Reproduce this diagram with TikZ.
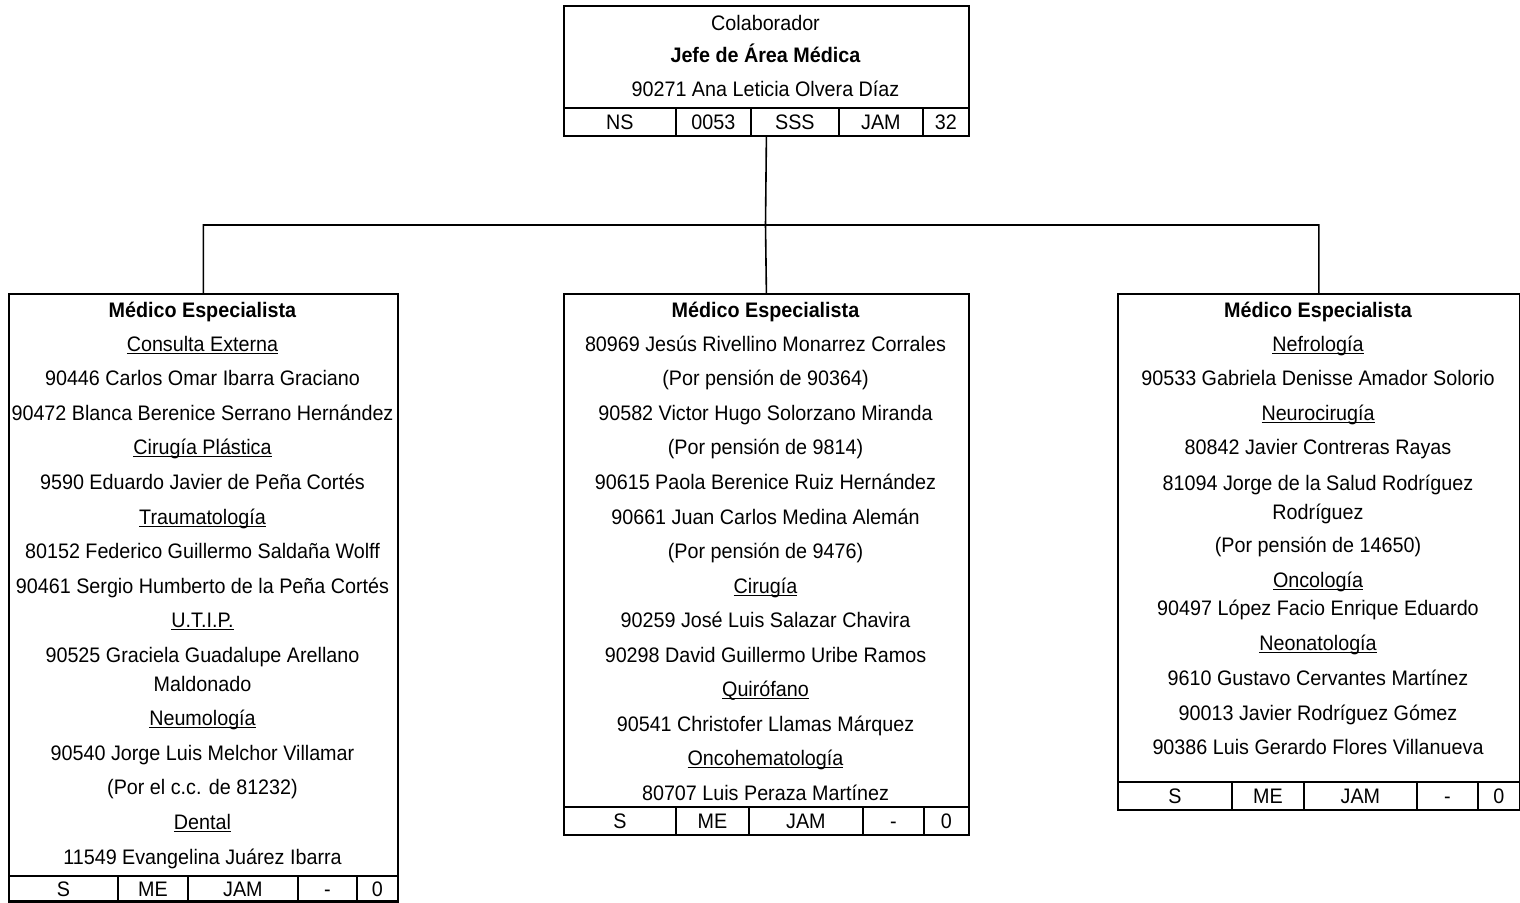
\documentclass[tikz,border=0pt]{standalone}
\usepackage{fontspec}
\setmainfont{Liberation Sans}[FakeStretch=0.94]
\usepackage{tikz}
\newcommand{\areaul}[1]{\setbox0\hbox{#1}\rlap{\rule[-2.5pt]{\wd0}{1.3pt}}\box0}

\begin{document}
\begin{tikzpicture}[x=1pt,y=-1pt,
	box/.style={draw,line width=1.8pt,anchor=north west,inner sep=0pt},
	cell/.style={draw,line width=1.8pt,anchor=north west,minimum height=28pt,
		inner sep=0pt,text height=15pt,text depth=0pt,font=\fontsize{21}{25}\selectfont},
	ln/.style={anchor=base,inner sep=0pt,font=\fontsize{21}{25}\selectfont},
	conn/.style={line width=1.6pt}]
	
	\useasboundingbox (0,0) rectangle (1520,902);
	
	% the boxes
	\node[box,minimum width=405pt,minimum height=130pt] (jefe) at (563,5) {};
	\node[box,minimum width=389pt,minimum height=607pt] (espA) at (8,293) {};
	\node[box,minimum width=405pt,minimum height=541pt] (espB) at (563,293) {};
	\node[box,minimum width=402pt,minimum height=516pt] (espC) at (1117,293) {};
	
	\coordinate (bus) at (765.5,225); % branch point
	
	\draw[conn] (jefe.south) -- (bus);
	\draw[conn] (bus) -| (espA.north)  (bus) -| (espC.north)  (bus) -- (espB.north);
	
	% code rows
	\path[every node/.append style={cell}]
		(563,107) node[minimum width=112pt] (j1) {NS}
		(675,107) node[minimum width=75pt]  (j2) {0053}
		(750,107) node[minimum width=88pt]  (j3) {SSS}
		(838,107) node[minimum width=84pt]  (j4) {JAM}
		(922,107) node[minimum width=46pt]  (j5) {32}
		(8,875)   node[minimum width=109pt,minimum height=26pt] (a1) {S}
		(117,875) node[minimum width=70pt,minimum height=26pt]  (a2) {ME}
		(187,875) node[minimum width=110pt,minimum height=26pt] (a3) {JAM}
		(297,875) node[minimum width=59pt,minimum height=26pt]  (a4) {-}
		(356,875) node[minimum width=41pt,minimum height=26pt]  (a5) {0}
		(563,806) node[minimum width=112pt] (b1) {S}
		(675,806) node[minimum width=73pt]  (b2) {ME}
		(748,806) node[minimum width=114pt] (b3) {JAM}
		(862,806) node[minimum width=61pt]  (b4) {-}
		(923,806) node[minimum width=45pt]  (b5) {0}
		(1117,781) node[minimum width=114pt] (c1) {S}
		(1231,781) node[minimum width=72pt]  (c2) {ME}
		(1303,781) node[minimum width=113pt] (c3) {JAM}
		(1416,781) node[minimum width=61pt]  (c4) {-}
		(1477,781) node[minimum width=42pt]  (c5) {0};
	
	% head
	\path[every node/.append style={ln}]
		(765.5,30) node (jt1) {Colaborador}
		(765.5,62) node (jt2) {\textbf{Jefe de Área Médica}}
		(765.5,96) node (jt3) {90271 Ana Leticia Olvera Díaz};
	
	% left
	\path[every node/.append style={ln}]
		(202.5,317.5) node (at1)  {\textbf{Médico Especialista}}
		(202.5,351.5) node (at2)  {\areaul{Consulta Externa}}
		(202.5,385.5) node (at3)  {90446 Carlos Omar Ibarra Graciano}
		(202.5,420.5) node (at4)  {90472 Blanca Berenice Serrano Hernández}
		(202.5,454.5) node (at5)  {\areaul{Cirugía Plástica}}
		(202.5,489.5) node (at6)  {9590 Eduardo Javier de Peña Cortés}
		(202.5,524.5) node (at7)  {\areaul{Traumatología}}
		(202.5,558.5) node (at8)  {80152 Federico Guillermo Saldaña Wolff}
		(202.5,593.5) node (at9)  {90461 Sergio Humberto de la Peña Cortés}
		(202.5,627.5) node (at10) {\areaul{U.T.I.P.}}
		(202.5,662.5) node (at11) {90525 Graciela Guadalupe Arellano}
		(202.5,691.5) node (at12) {Maldonado}
		(202.5,725.5) node (at13) {\areaul{Neumología}}
		(202.5,760.5) node (at14) {90540 Jorge Luis Melchor Villamar}
		(202.5,794.5) node (at15) {(Por el c.c. de 81232)}
		(202.5,829.5) node (at16) {\areaul{Dental}}
		(202.5,864.5) node (at17) {11549 Evangelina Juárez Ibarra};
	
	% middle
	\path[every node/.append style={ln}]
		(765.5,317.5) node (bt1)  {\textbf{Médico Especialista}}
		(765.5,351.5) node (bt2)  {80969 Jesús Rivellino Monarrez Corrales}
		(765.5,385.5) node (bt3)  {(Por pensión de 90364)}
		(765.5,420.5) node (bt4)  {90582 Victor Hugo Solorzano Miranda}
		(765.5,454.5) node (bt5)  {(Por pensión de 9814)}
		(765.5,489.5) node (bt6)  {90615 Paola Berenice Ruiz Hernández}
		(765.5,524.5) node (bt7)  {90661 Juan Carlos Medina Alemán}
		(765.5,558.5) node (bt8)  {(Por pensión de 9476)}
		(765.5,593.5) node (bt9)  {\areaul{Cirugía}}
		(765.5,627.5) node (bt10) {90259 José Luis Salazar Chavira}
		(765.5,662.5) node (bt11) {90298 David Guillermo Uribe Ramos}
		(765.5,696.5) node (bt12) {\areaul{Quirófano}}
		(765.5,731.5) node (bt13) {90541 Christofer Llamas Márquez}
		(765.5,765.5) node (bt14) {\areaul{Oncohematología}}
		(765.5,800.5) node (bt15) {80707 Luis Peraza Martínez};
	
	% right
	\path[every node/.append style={ln}]
		(1318,317.5) node (ct1)  {\textbf{Médico Especialista}}
		(1318,351.5) node (ct2)  {\areaul{Nefrología}}
		(1318,385.5) node (ct3)  {90533 Gabriela Denisse Amador Solorio}
		(1318,420.5) node (ct4)  {\areaul{Neurocirugía}}
		(1318,454.5) node (ct5)  {80842 Javier Contreras Rayas}
		(1318,490.5) node (ct6)  {81094 Jorge de la Salud Rodríguez}
		(1318,519.5) node (ct7)  {Rodríguez}
		(1318,552.5) node (ct8)  {(Por pensión de 14650)}
		(1318,587.5) node (ct9)  {\areaul{Oncología}}
		(1318,615.5) node (ct10) {90497 López Facio Enrique Eduardo}
		(1318,650.5) node (ct11) {\areaul{Neonatología}}
		(1318,685.5) node (ct12) {9610 Gustavo Cervantes Martínez}
		(1318,720.5) node (ct13) {90013 Javier Rodríguez Gómez}
		(1318,754.5) node (ct14) {90386 Luis Gerardo Flores Villanueva};
	
\end{tikzpicture}
\end{document}
